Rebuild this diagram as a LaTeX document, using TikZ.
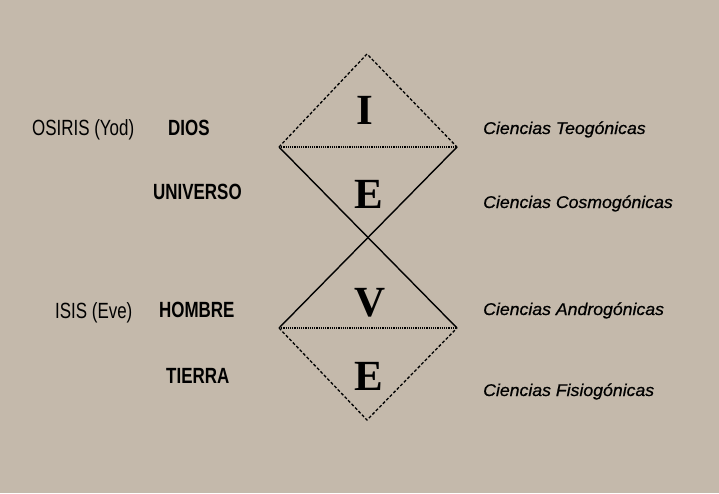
\documentclass[tikz,border=0pt]{standalone}
\usepackage{fontspec}
\setmainfont{Liberation Sans}
\newfontfamily\letrafont{Liberation Serif}
\newfontfamily\nombrefont[FakeStretch=0.77]{Liberation Sans}
\newfontfamily\cienciafont[FakeBold=0.6, FakeStretch=1.04]{Liberation Sans}
\definecolor{papel}{RGB}{196,185,171}
\tikzset{
  nombre/.style={anchor=base west, inner sep=0pt, font=\nombrefont\fontsize{22}{22}\selectfont},
  nombrebf/.style={nombre, font=\nombrefont\bfseries\fontsize{22}{22}\selectfont},
  ciencia/.style={anchor=base west, inner sep=0pt, font=\cienciafont\itshape\fontsize{17}{17}\selectfont},
  letra/.style={inner sep=0pt, font=\letrafont\bfseries\fontsize{43}{43}\selectfont},
}
\begin{document}
\begin{tikzpicture}[x=1pt, y=-1pt, yscale=1, xscale=1]
\fill[papel] (0, 0) rectangle (719, 493);
\useasboundingbox (0, 0) rectangle (719, 493);
\coordinate (cima) at (367, 54);
\coordinate (izqA) at (279, 147);
\coordinate (derA) at (457, 147);
\coordinate (izqB) at (279, 328);
\coordinate (derB) at (457, 328);
\coordinate (fondo) at (367, 420);
\draw[densely dashed, line width=1.3] (izqA) -- (cima) -- (derA);
\draw[densely dotted, line width=1.2] (izqA) -- (derA);
\draw[line width=1.4] (izqA) -- (derB);
\draw[line width=1.4] (derA) -- (izqB);
\draw[densely dotted, line width=1.2] (izqB) -- (derB);
\draw[densely dashed, line width=1.3] (izqB) -- (fondo) -- (derB);
%Letras
\draw (365, 110) node [letra] (letI) {I};
\draw (369, 194) node [letra] (letE) {E};
\draw (370, 303) node [letra] (letV) {V};
\draw (369, 376) node [letra] (letEb) {E};
%Text
\draw (32, 135) node [nombre] (osiris) {OSIRIS (Yod)};
\draw (168, 135) node [nombrebf] (dios) {DIOS};
\draw (153, 199) node [nombrebf] (universo) {UNIVERSO};
\draw (55, 318) node [nombre] (isis) {ISIS (Eve)};
\draw (159, 317) node [nombrebf] (hombre) {HOMBRE};
\draw (166, 383) node [nombrebf] (tierra) {TIERRA};
\draw (483, 134) node [ciencia] (teo) {Ciencias Teogónicas};
\draw (483, 208) node [ciencia] (cosmo) {Ciencias Cosmogónicas};
\draw (483, 315) node [ciencia] (andro) {Ciencias Androgónicas};
\draw (483, 396) node [ciencia] (fisio) {Ciencias Fisiogónicas};
\end{tikzpicture}
\end{document}
